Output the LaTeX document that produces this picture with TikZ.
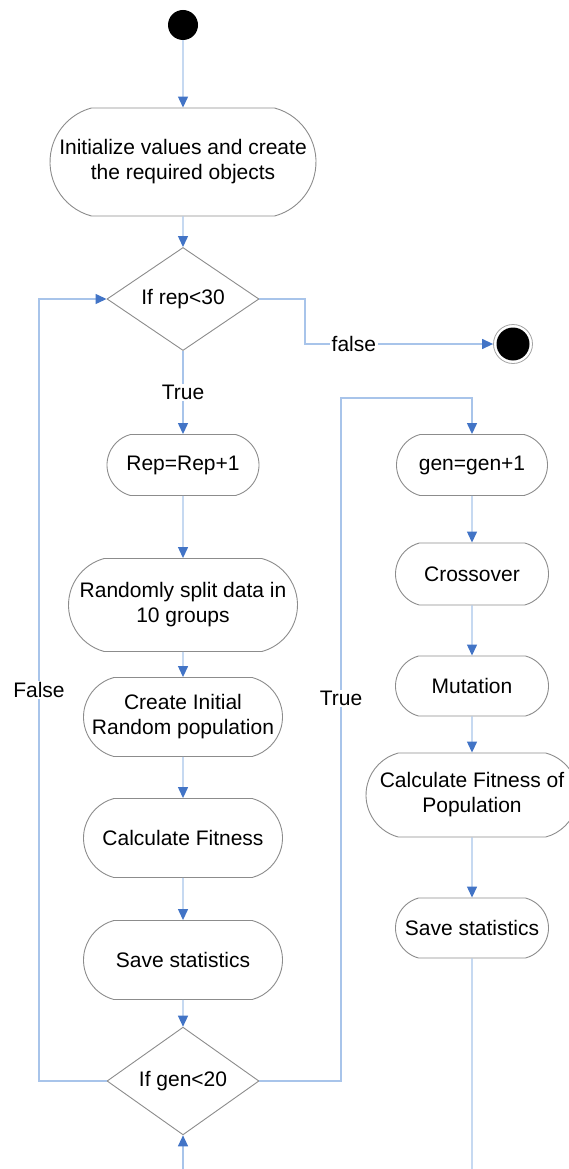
\documentclass[tikz,border=0pt]{standalone}
\usepackage{fontspec}
\setmainfont{Liberation Sans}
\usetikzlibrary{shapes.misc,shapes.geometric,arrows.meta}
\definecolor{linkblue}{RGB}{168,196,234}
\definecolor{tipblue}{RGB}{66,116,198}
\definecolor{framegray}{RGB}{140,140,140}
\begin{document}
\begin{tikzpicture}[x=1pt,y=-1pt,
  every node/.style={font=\fontsize{21}{25}\selectfont, inner sep=0pt},
  activity/.style={rounded rectangle, rounded rectangle arc length=150,
    draw=framegray, line width=0.9pt, fill=white, align=center},
  decision/.style={diamond, draw=framegray, line width=0.9pt, fill=white,
    minimum width=152, minimum height=90},
  link/.style={draw=linkblue, line width=1.3pt},
  flow/.style={link, -{Triangle[length=11pt,width=10pt,color=tipblue]}},
  guard/.style={fill=white, inner sep=1.5pt}]
\useasboundingbox (0,0) rectangle (569,1169);

% start and end markers
\node[circle, fill=black, minimum size=30] (start) at (183,25) {};
\node[circle, draw=framegray!80, line width=0.8pt, minimum size=39] (endring) at (513,344) {};
\node[circle, fill=black, minimum size=33] (endc) at (endring.center) {};

% main column
\node[activity, minimum width=266, minimum height=108] (init) at (183,162)
  {Initialize values and create\\the required objects};
\node[decision] (d1) at (183,299) {If rep<30};
\node[activity, minimum width=152, minimum height=61] (rep) at (183,465) {Rep=Rep+1};
\node[activity, minimum width=229, minimum height=93] (split) at (183,605)
  {Randomly split data in\\10 groups};
\node[activity, minimum width=199, minimum height=79] (create) at (183,717)
  {Create Initial\\Random population};
\node[activity, minimum width=199, minimum height=79] (calc) at (183,838) {Calculate Fitness};
\node[activity, minimum width=199, minimum height=79] (save1) at (183,960) {Save statistics};
\node[decision] (d2) at (183,1081) {If gen<20};

% generation column
\node[activity, minimum width=151, minimum height=61] (gen) at (472,465) {gen=gen+1};
\node[activity, minimum width=153, minimum height=62] (cross) at (472,574) {Crossover};
\node[activity, minimum width=153, minimum height=60] (mut) at (472,686) {Mutation};
\node[activity, minimum width=212, minimum height=84] (calcpop) at (472,795)
  {Calculate Fitness of\\Population};
\node[activity, minimum width=153, minimum height=60] (save2) at (472,928) {Save statistics};

% bend points of the loops
\coordinate (fturn) at (305,344);
\coordinate (lbot) at (39,1081);
\coordinate (ltop) at (39,299);
\coordinate (rbot) at (341,1081);
\coordinate (rtop) at (341,398);
\coordinate (bin) at (183,1169);
\coordinate (bout) at (472,1169);

% connectors
\draw[flow] (start) -- (init);
\draw[flow] (init) -- (d1);
\draw[flow] (d1.east) -| (fturn) -- node[guard, pos=0.26] {false} (endring.west);
\draw[flow] (d1.south) -- node[guard] {True} (rep.north);
\draw[flow] (rep) -- (split);
\draw[flow] (split) -- (create);
\draw[flow] (create) -- (calc);
\draw[flow] (calc) -- (save1);
\draw[flow] (save1) -- (d2);
\draw[flow] (d2.west) -- (lbot) -- node[guard, pos=0.5] {False} (ltop) -- (d1.west);
\draw[flow] (d2.east) -- (rbot) -- node[guard, pos=0.56] {True} (rtop) -| (gen.north);
\draw[flow] (gen) -- (cross);
\draw[flow] (cross) -- (mut);
\draw[flow] (mut) -- (calcpop);
\draw[flow] (calcpop) -- (save2);
\draw[link] (save2) -- (bout);
\draw[flow] (bin) -- (d2.south);
\end{tikzpicture}
\end{document}
